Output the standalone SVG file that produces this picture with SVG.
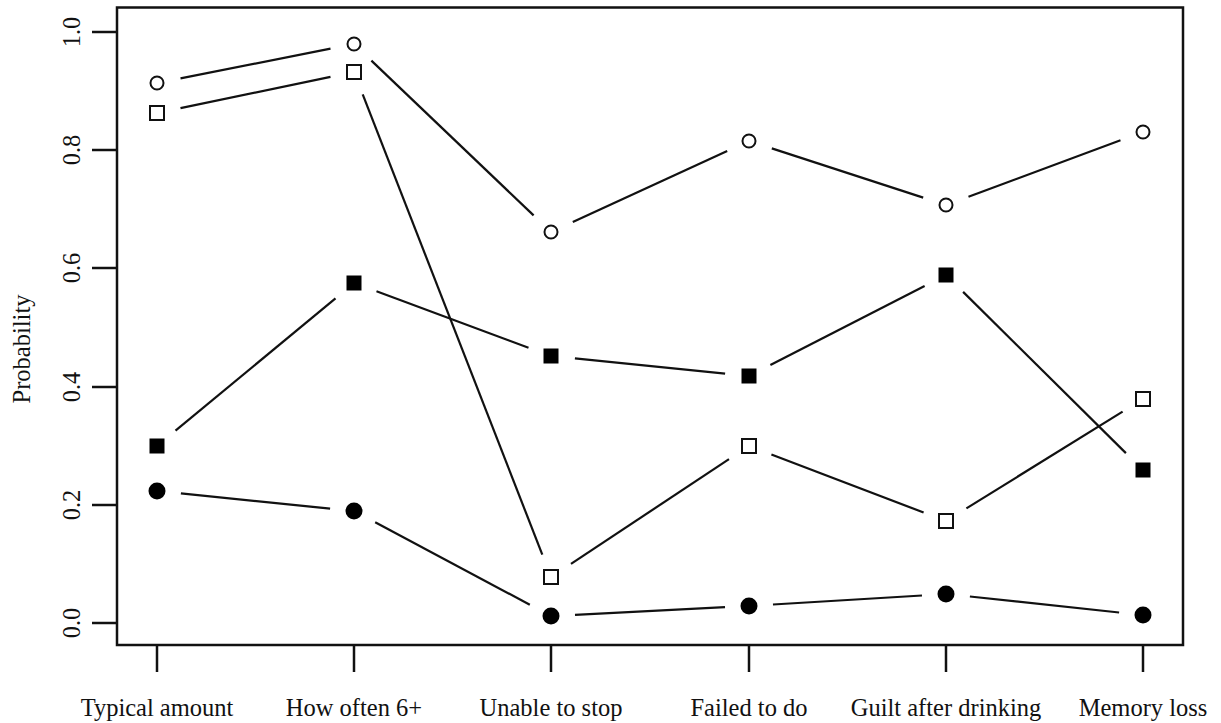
<svg xmlns="http://www.w3.org/2000/svg" xmlns:xlink="http://www.w3.org/1999/xlink" width="1221" height="723" viewBox="0 0 1221 723">
<style>
text{font-family:"Liberation Serif","Times New Roman",serif;font-size:24.5px;fill:#111}
.ax{stroke:#111;stroke-width:2.5;fill:none}
.ln line{stroke:#111;stroke-width:2.2;stroke-linecap:butt}
.oc{fill:#fff;stroke:#111;stroke-width:2}
.os{fill:#fff;stroke:#111;stroke-width:2}
.fs,.fc{fill:#000}
</style>
<defs>
<circle id="m-oc" class="oc" cx="0" cy="0" r="6.5"/>
<rect id="m-os" class="os" x="-7" y="-7" width="14" height="14"/>
<rect id="m-fs" class="fs" x="-7.5" y="-7.5" width="15" height="15"/>
<circle id="m-fc" class="fc" cx="0" cy="0" r="8.5"/>
</defs>
<rect width="1221" height="723" fill="#fff"/>
<g id="axes">
<rect class="ax" x="117" y="7.5" width="1066" height="637.5"/>
<g class="ax">
<line x1="92" y1="32" x2="117" y2="32"/>
<line x1="92" y1="150" x2="117" y2="150"/>
<line x1="92" y1="268" x2="117" y2="268"/>
<line x1="92" y1="387" x2="117" y2="387"/>
<line x1="92" y1="505" x2="117" y2="505"/>
<line x1="92" y1="623" x2="117" y2="623"/>
<line x1="157" y1="645" x2="157" y2="672"/>
<line x1="354" y1="645" x2="354" y2="672"/>
<line x1="551" y1="645" x2="551" y2="672"/>
<line x1="749" y1="645" x2="749" y2="672"/>
<line x1="946" y1="645" x2="946" y2="672"/>
<line x1="1143" y1="645" x2="1143" y2="672"/>
</g>
<g text-anchor="middle">
<text transform="translate(80,32) rotate(-90)">1.0</text>
<text transform="translate(80,150) rotate(-90)">0.8</text>
<text transform="translate(80,268) rotate(-90)">0.6</text>
<text transform="translate(80,387) rotate(-90)">0.4</text>
<text transform="translate(80,505) rotate(-90)">0.2</text>
<text transform="translate(80,623) rotate(-90)">0.0</text>
<text transform="translate(30,349) rotate(-90)">Probability</text>
<text x="157" y="716">Typical amount</text>
<text x="354" y="716">How often 6+</text>
<text x="551" y="716">Unable to stop</text>
<text x="749" y="716">Failed to do</text>
<text x="946" y="716">Guilt after drinking</text>
<text x="1143" y="716">Memory loss</text>
</g>
</g>
<g id="connectors" class="ln">
<line x1="180.5" y1="78.3" x2="330.5" y2="48.7"/>
<line x1="371.4" y1="60.6" x2="533.6" y2="215.4"/>
<line x1="572.8" y1="222" x2="727.2" y2="151"/>
<line x1="771.8" y1="148.4" x2="923.2" y2="197.6"/>
<line x1="968.5" y1="196.7" x2="1120.5" y2="140.3"/>
<line x1="180.5" y1="108.1" x2="330.5" y2="76.9"/>
<line x1="362.7" y1="94.4" x2="542.3" y2="554.6"/>
<line x1="571" y1="563.8" x2="729" y2="459.2"/>
<line x1="771.4" y1="454.5" x2="923.6" y2="512.5"/>
<line x1="966.4" y1="508.4" x2="1122.6" y2="411.6"/>
<line x1="175.5" y1="430.7" x2="335.5" y2="298.3"/>
<line x1="376.5" y1="291.3" x2="528.5" y2="347.7"/>
<line x1="574.9" y1="358.4" x2="725.1" y2="373.6"/>
<line x1="770.4" y1="365.1" x2="924.6" y2="285.9"/>
<line x1="963.1" y1="291.9" x2="1125.9" y2="453.1"/>
<line x1="180.9" y1="493.4" x2="330.1" y2="508.6"/>
<line x1="375.2" y1="522.3" x2="529.8" y2="604.7"/>
<line x1="575" y1="614.8" x2="725" y2="607.2"/>
<line x1="773" y1="604.5" x2="922" y2="595.5"/>
<line x1="969.9" y1="596.5" x2="1119.1" y2="612.5"/>
</g>
<g id="series-open-circles">
<use xlink:href="#m-oc" x="157" y="83"/>
<use xlink:href="#m-oc" x="354" y="44"/>
<use xlink:href="#m-oc" x="551" y="232"/>
<use xlink:href="#m-oc" x="749" y="141"/>
<use xlink:href="#m-oc" x="946" y="205"/>
<use xlink:href="#m-oc" x="1143" y="132"/>
</g>
<g id="series-open-squares">
<use xlink:href="#m-os" x="157" y="113"/>
<use xlink:href="#m-os" x="354" y="72"/>
<use xlink:href="#m-os" x="551" y="577"/>
<use xlink:href="#m-os" x="749" y="446"/>
<use xlink:href="#m-os" x="946" y="521"/>
<use xlink:href="#m-os" x="1143" y="399"/>
</g>
<g id="series-filled-squares">
<use xlink:href="#m-fs" x="157" y="446"/>
<use xlink:href="#m-fs" x="354" y="283"/>
<use xlink:href="#m-fs" x="551" y="356"/>
<use xlink:href="#m-fs" x="749" y="376"/>
<use xlink:href="#m-fs" x="946" y="275"/>
<use xlink:href="#m-fs" x="1143" y="470"/>
</g>
<g id="series-filled-circles">
<use xlink:href="#m-fc" x="157" y="491"/>
<use xlink:href="#m-fc" x="354" y="511"/>
<use xlink:href="#m-fc" x="551" y="616"/>
<use xlink:href="#m-fc" x="749" y="606"/>
<use xlink:href="#m-fc" x="946" y="594"/>
<use xlink:href="#m-fc" x="1143" y="615"/>
</g>
</svg>
